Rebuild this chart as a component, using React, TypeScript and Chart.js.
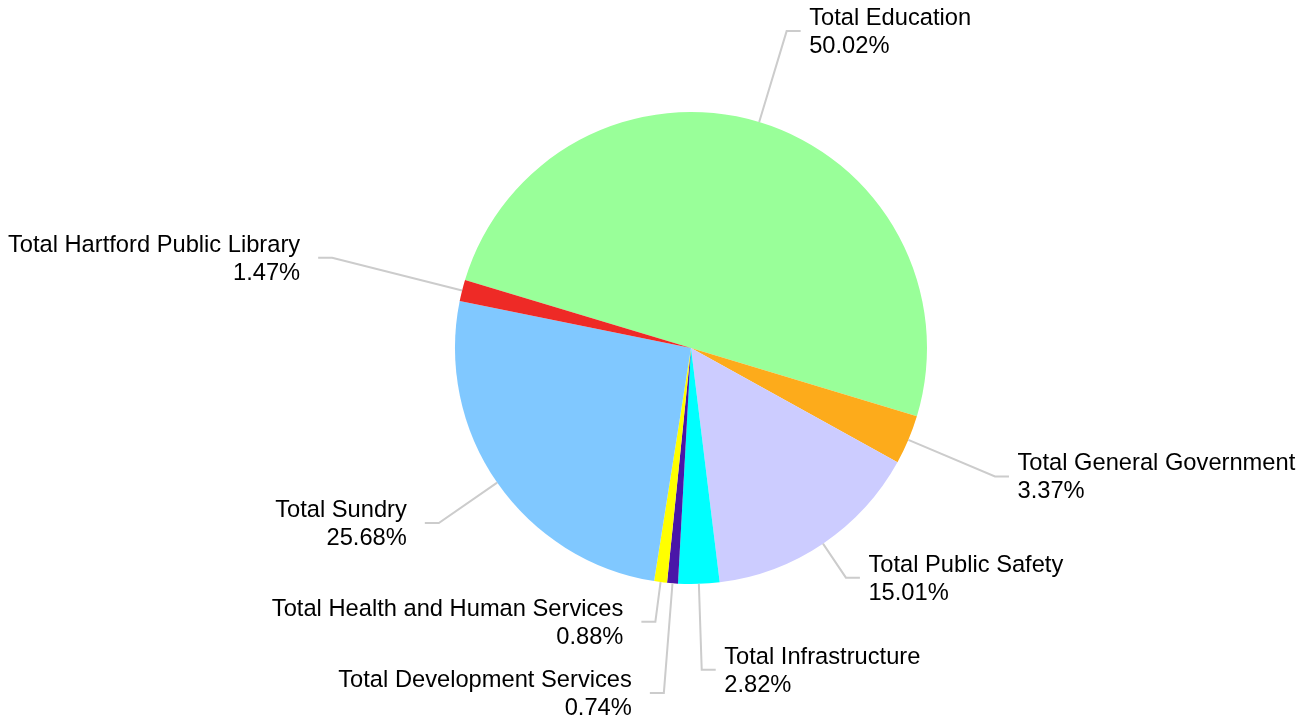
import React, { useEffect, useRef } from "react";
import { Chart, registerables } from "chart.js";

Chart.register(...registerables);

const categories = [
  "Total Education",
  "Total General Government",
  "Total Public Safety",
  "Total Infrastructure",
  "Total Development Services",
  "Total Health and Human Services",
  "Total Sundry",
  "Total Hartford Public Library",
];
const shares = [50.02, 3.37, 15.01, 2.82, 0.74, 0.88, 25.68, 1.47];
const colors = [
  "#99ff99",
  "#fdab1b",
  "#ccccff",
  "#00ffff",
  "#4a16a8",
  "#ffff00",
  "#80c8ff",
  "#ee2a26",
];

// leader-line layout (radial length beyond the pie edge, per slice)
const leaderExt = [95, 94, 41, 86, 110, 40, 71, 134];

const labelPlugin = {
  id: "outLabels",
  afterDraw(chart: any) {
    const ctx = chart.ctx;
    const meta = chart.getDatasetMeta(0);
    ctx.save();
    ctx.font = '23.7px "Liberation Sans", Arial, Helvetica, sans-serif';
    ctx.textBaseline = "middle";
    meta.data.forEach((arc: any, i: number) => {
      const { x, y, startAngle, endAngle, outerRadius } = arc.getProps(
        ["x", "y", "startAngle", "endAngle", "outerRadius"],
        true
      );
      const mid = (startAngle + endAngle) / 2;
      const c = Math.cos(mid);
      const s = Math.sin(mid);
      const ex = x + outerRadius * c;
      const ey = y + outerRadius * s;
      const r2 = outerRadius + leaderExt[i];
      const bx = x + r2 * c;
      const by = y + r2 * s;
      const right = c >= 0;
      const hx = right ? bx + 14 : bx - 14;
      ctx.strokeStyle = "#cccccc";
      ctx.lineWidth = 2;
      ctx.beginPath();
      ctx.moveTo(ex, ey);
      ctx.lineTo(bx, by);
      ctx.lineTo(hx, by);
      ctx.stroke();
      ctx.fillStyle = "#000000";
      ctx.textAlign = right ? "left" : "right";
      const tx = right ? hx + 8.5 : hx - 18;
      ctx.fillText(categories[i], tx, by - 12.5);
      ctx.fillText(shares[i].toFixed(2) + "%", tx, by + 15.5);
    });
    ctx.restore();
  },
};

export default function App() {
  const ref = useRef<HTMLCanvasElement>(null);
  useEffect(() => {
    if (!ref.current) return;
    const chart = new Chart(ref.current, {
      type: "pie",
      data: {
        labels: categories,
        datasets: [
          {
            data: shares,
            backgroundColor: colors,
            borderWidth: 0,
          },
        ],
      },
      options: {
        animation: false,
        responsive: false,
        rotation: -73.25,
        layout: { padding: { top: 112, bottom: 139, left: 455, right: 386 } },
        plugins: {
          legend: { display: false },
          tooltip: { enabled: false },
        },
      },
      plugins: [labelPlugin],
    });
    return () => chart.destroy();
  }, []);
  return (
    <div style={{ position: "fixed", left: 0, top: 0, width: 1313, height: 723, background: "#fff" }}>
      <canvas ref={ref} width={1313} height={723} style={{ width: 1313, height: 723 }} />
    </div>
  );
}
